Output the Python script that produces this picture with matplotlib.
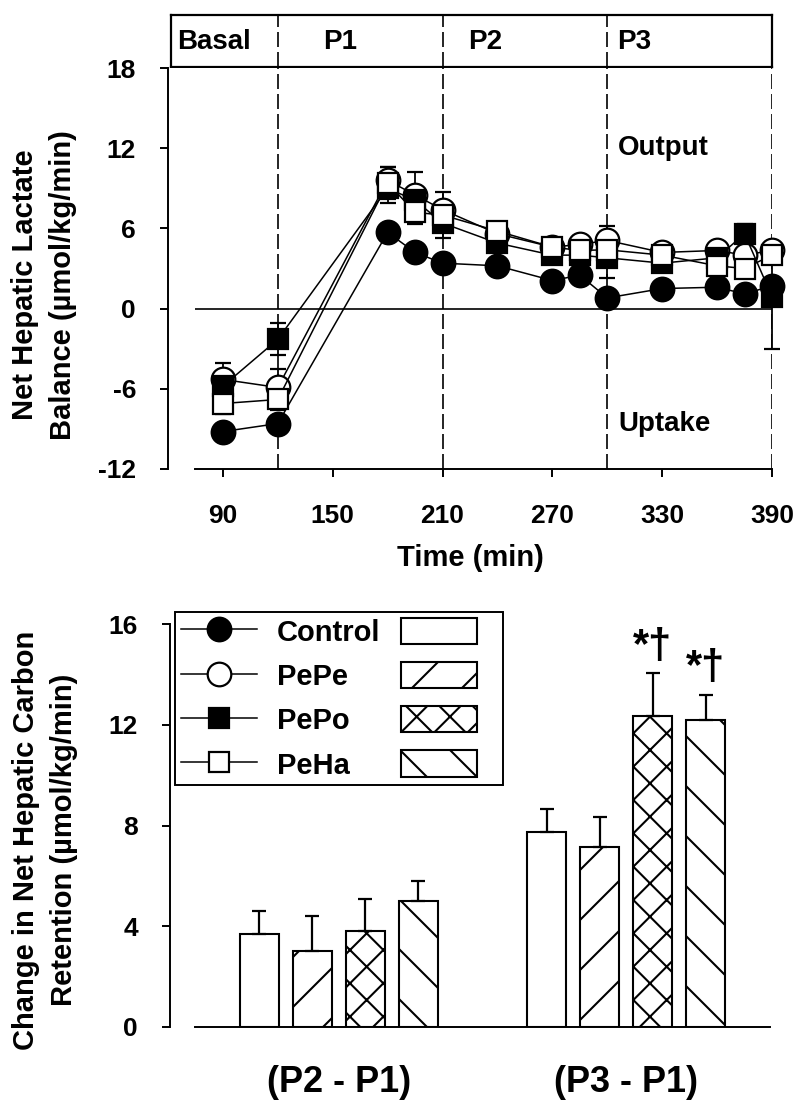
import matplotlib
matplotlib.use('Agg')
import matplotlib.pyplot as plt
from matplotlib.backend_bases import GraphicsContextBase

# ---- top panel: net hepatic lactate balance over time ----
times = [90, 120, 180, 195, 210, 240, 270, 285, 300, 330, 360, 375, 390]
names = ['Control', 'PePe', 'PePo', 'PeHa']

control = [-9.2, -8.6, 5.7, 4.2, 3.4, 3.2, 2.1, 2.5, 0.8, 1.5, 1.6, 1.1, 1.7]
pepe = [-5.3, -5.9, 9.6, 8.5, 7.4, 5.6, 4.6, 4.8, 5.1, 4.2, 4.35, 4.0, 4.35]
pepo = [-5.8, -2.3, 9.0, 8.1, 6.4, 4.9, 4.0, 4.0, 3.8, 3.4, 3.8, 5.6, 0.9]
peha = [-7.1, -6.8, 9.4, 7.2, 7.0, 5.8, 4.6, 4.35, 4.4, 4.0, 3.2, 3.0, 4.0]

control_err = [0.6, 0.6, 0.6, 0.5, 0.5, 0.4, 0.5, 0.4, 0.4, 0.4, 0.4, 0.4, 0.5]
pepe_err = [1.25, 1.4, 1.0, 1.7, 1.3, 0.6, 0.5, 0.6, 1.05, 0.5, 0.5, 0.6, 0.6]
pepo_err = [0.8, 1.2, 1.1, 0.9, 1.1, 0.7, 0.6, 0.6, 1.5, 0.5, 0.6, 0.7, 3.9]
peha_err = [0.8, 0.8, 1.2, 0.9, 0.9, 0.6, 0.5, 0.5, 0.6, 0.4, 0.6, 0.6, 0.5]

phase_bounds = [120, 210, 300, 390]
phase_names = ['Basal', 'P1', 'P2', 'P3']
phase_label_x = [65, 144.5, 223.7, 305.5]

# ---- bottom panel: change in net hepatic carbon retention ----
bar_groups = ['(P2 - P1)', '(P3 - P1)']
control_bar = [3.7, 7.75]
pepe_bar = [3.0, 7.15]
pepo_bar = [3.8, 12.35]
peha_bar = [5.0, 12.2]
control_bar_err = [0.9, 0.9]
pepe_bar_err = [1.4, 1.2]
pepo_bar_err = [1.3, 1.7]
peha_bar_err = [0.8, 1.0]
bar_marks = [['', ''], ['', ''], ['', '*\u2020'], ['', '*\u2020']]

plt.rcParams['font.family'] = ['Liberation Sans', 'DejaVu Sans']
plt.rcParams['font.weight'] = 'bold'
plt.rcParams['axes.labelweight'] = 'bold'
plt.rcParams['axes.unicode_minus'] = False
plt.rcParams['hatch.linewidth'] = 1.5

# sparser single hatching than matplotlib's fixed 6 lines per inch
_hatch_path = GraphicsContextBase.get_hatch_path


def sparse_hatch(self, density=6.0):
    return _hatch_path(self, 6 if 'x' in (self.get_hatch() or '') else 4)


GraphicsContextBase.get_hatch_path = sparse_hatch

W, H = 800, 1109
fig = plt.figure(figsize=(W / 100, H / 100), dpi=100)


def px_box(left, top, right, bottom):
    return [left / W, 1 - bottom / H, (right - left) / W, (bottom - top) / H]


ax0 = fig.add_axes(px_box(171, 15, 772, 67))
ax1 = fig.add_axes(px_box(168, 68, 772, 469))
ax2 = fig.add_axes(px_box(170, 624, 770, 1027))

dash = (0, (9, 3))

# header box with phase names
ax0.set_xlim(61.6, 390)
ax0.set_ylim(0, 1)
ax0.set_xticks([])
ax0.set_yticks([])
for s in ax0.spines.values():
    s.set_linewidth(1.6)
for t in phase_bounds[:-1]:
    ax0.axvline(t, color='black', lw=1.2, ls=dash)
for name, x in zip(phase_names, phase_label_x):
    ax0.text(x, 0.48, name, ha='left', va='center', fontsize=20)

# time course
series = [control, pepe, pepo, peha]
series_err = [control_err, pepe_err, pepo_err, peha_err]
styles = [('o', 'black', 17), ('o', 'white', 17), ('s', 'black', 14.5), ('s', 'white', 14.5)]

for t in phase_bounds:
    ax1.axvline(t, color='black', lw=1.2, ls=dash, zorder=1)
ax1.hlines(0, 75, 390, color='black', lw=1.2, zorder=1)

handles = []
for vals, errs, (mk, fc, ms) in zip(series, series_err, styles):
    eb = ax1.errorbar(times, vals, yerr=errs, fmt='-', marker=mk, ms=ms, mfc=fc,
                      mec='black', mew=1.6, color='black', lw=1.1, ecolor='black',
                      elinewidth=1.3, capsize=6, capthick=1.3)
    for art in eb.get_children():
        art.set_clip_on(False)
    handles.append(eb[0])

ax1.text(306, 12, 'Output', ha='left', va='center', fontsize=20)
ax1.text(306, -8.6, 'Uptake', ha='left', va='center', fontsize=20)

ax1.set_xlim(60, 390)
ax1.set_ylim(-12, 18)
ax1.set_xticks([90, 150, 210, 270, 330, 390])
ax1.set_yticks([-12, -6, 0, 6, 12, 18])
ax1.spines[['top', 'right']].set_visible(False)
ax1.spines['bottom'].set_bounds(75, 390)
for s in ax1.spines.values():
    s.set_linewidth(1.4)
ax1.tick_params(direction='out', length=6, width=1.4, labelsize=19)
ax1.tick_params(axis='y', pad=17)
ax1.tick_params(axis='x', pad=19)
ax1.set_xlabel('Time (min)', fontsize=21, labelpad=12)
ax1.set_ylabel('Net Hepatic Lactate\nBalance (\u00b5mol/kg/min)', fontsize=21, linespacing=1.45)
ax1.yaxis.set_label_coords(-0.151, 0.459)

# bar chart
bar_vals = [control_bar, pepe_bar, pepo_bar, peha_bar]
bar_errs = [control_bar_err, pepe_bar_err, pepo_bar_err, peha_bar_err]
hatches = ['', '/', 'x', '\\']
offsets = [-1.5, -0.5, 0.5, 1.5]
gap = 0.184
bar_w = 0.135

bar_handles = []
for vals, errs, hatch, off, marks in zip(bar_vals, bar_errs, hatches, offsets, bar_marks):
    xs = [g + off * gap for g in range(len(bar_groups))]
    bars = ax2.bar(xs, vals, bar_w, color='white', edgecolor='black', lw=1.5, hatch=hatch)
    bar_handles.append(bars)
    ax2.errorbar(xs, vals, yerr=[[0] * len(vals), errs], fmt='none', ecolor='black',
                 elinewidth=1.6, capsize=5, capthick=1.6)
    for x, v, e, m in zip(xs, vals, errs, marks):
        if m:
            ax2.text(x, v + e + 0.25, m, ha='center', va='bottom', fontsize=30)

ax2.set_xlim(-0.587, 1.5)
ax2.set_ylim(0, 16)
ax2.set_xticks(range(len(bar_groups)))
ax2.set_xticklabels(bar_groups)
ax2.set_yticks([0, 4, 8, 12, 16])
ax2.spines[['top', 'right']].set_visible(False)
ax2.spines['bottom'].set_bounds(-0.5, 1.5)
for s in ax2.spines.values():
    s.set_linewidth(1.4)
ax2.tick_params(direction='out', length=6, width=1.4, labelsize=19)
ax2.tick_params(axis='y', pad=17)
ax2.tick_params(axis='x', length=0, pad=27, labelsize=26)
ax2.set_ylabel('Change in Net Hepatic Carbon\nRetention (\u00b5mol/kg/min)', fontsize=21,
               linespacing=1.45)
ax2.yaxis.set_label_coords(-0.153, 0.464)

leg = ax2.legend(handles + bar_handles, names + [''] * 4, ncol=2, loc='upper left',
                 bbox_to_anchor=(175 / W, 1 - 612 / H), bbox_transform=fig.transFigure,
                 prop={'size': 21, 'weight': 'bold'}, handlelength=2.6, handleheight=1.0,
                 handletextpad=0.7, columnspacing=0.7, labelspacing=0.52, borderpad=0.2,
                 borderaxespad=0, fancybox=False, edgecolor='black', framealpha=1)
leg.get_frame().set_linewidth(1.4)

fig.savefig('out.png', dpi=100)
